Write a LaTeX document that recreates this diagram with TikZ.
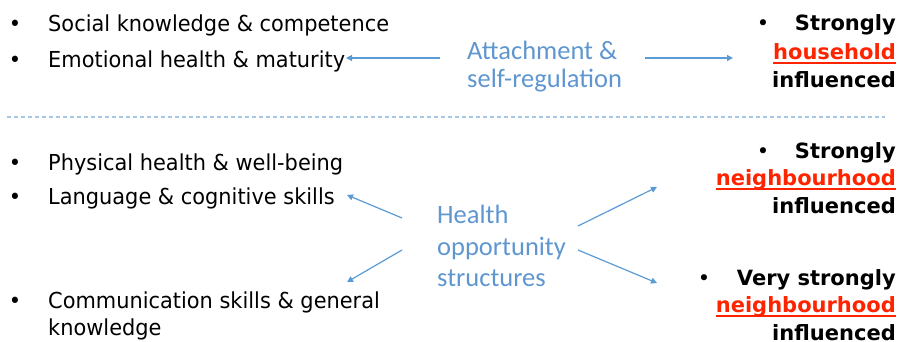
\documentclass[tikz,border=0pt]{standalone}
\usepackage{fontspec}
\setmainfont[FakeStretch=0.95]{DejaVu Sans}
\newfontfamily\bff{DejaVu Sans}
\newfontfamily\blueff{Carlito}
\usetikzlibrary{arrows.meta}
\definecolor{arrowblue}{RGB}{91,155,213}
\definecolor{txtblue}{RGB}{95,150,208}
\definecolor{hotred}{RGB}{255,36,0}
\definecolor{dashblue}{RGB}{165,198,230}
\begin{document}
\begin{tikzpicture}[x=1pt,y=-1pt,
  txt/.style={inner sep=0pt, font=\fontsize{22}{26}\selectfont, anchor=base west},
  bul/.style={inner sep=0pt, font=\fontsize{22}{26}\selectfont, anchor=base},
  bbul/.style={inner sep=0pt, font=\bff\fontsize{21}{25}\selectfont, anchor=base},
  blu/.style={inner sep=0pt, font=\blueff\fontsize{26.5}{30}\selectfont, text=txtblue, anchor=base west},
  bld/.style={inner sep=0pt, font=\bff\bfseries\fontsize{21}{25}\selectfont, anchor=base east},
  redword/.style={bld, text=hotred},
  uline/.style={draw=hotred, line width=1.6pt},
  arr/.style={draw=arrowblue, line width=1.2pt, -{Triangle[length=6pt,width=6pt]}}
]
\useasboundingbox (0,0) rectangle (901,341);
% top left list
\node[bul] (b1) at (15,31) {•};
\node[txt] (t1) at (48,31) {Social knowledge \& competence};
\node[bul] (b2) at (15,67) {•};
\node[txt] (t2) at (48,67) {Emotional health \& maturity};
% top middle
\node[blu] (a1) at (467,59) {Attachment \&};
\node[blu] (a2) at (467,87) {self-regulation};
% top right
\node[bbul] (rb1) at (763,30) {•};
\node[bld] (r1) at (896,30) {Strongly};
\node[redword] (r2) at (896,59) {household};
\node[bld] (r3) at (896,87) {influenced};
\draw[uline] ([yshift=-4pt]r2.base west) -- ([yshift=-4pt]r2.base east);
% arrows top
\coordinate (p1s) at (440,58);
\coordinate (p1e) at (346,58);
\coordinate (p2s) at (645,58);
\coordinate (p2e) at (733,58);
\draw[arr] (p1s) -- (p1e);
\draw[arr] (p2s) -- (p2e);
% dashed separator
\coordinate (d1) at (7,117);
\coordinate (d2) at (885,117);
\draw[draw=dashblue, line width=1.3pt, dash pattern=on 4pt off 3pt] (d1) -- (d2);
% bottom left list
\node[bul] (b3) at (15,170) {•};
\node[txt] (t3) at (48,170) {Physical health \& well-being};
\node[bul] (b4) at (15,204) {•};
\node[txt] (t4) at (48,204) {Language \& cognitive skills};
\node[bul] (b5) at (15,308) {•};
\node[txt] (t5) at (48,308) {Communication skills \& general};
\node[txt] (t6) at (48,335) {knowledge};
% bottom middle
\node[blu] (h1) at (437,223) {Health};
\node[blu] (h2) at (437,255) {opportunity};
\node[blu] (h3) at (437,286) {structures};
% bottom right
\node[bbul] (rb2) at (763,158) {•};
\node[bld] (s1) at (896,158) {Strongly};
\node[redword] (s2) at (896,185) {neighbourhood};
\node[bld] (s3) at (896,213) {influenced};
\draw[uline] ([yshift=-4pt]s2.base west) -- ([yshift=-4pt]s2.base east);
\node[bbul] (rb3) at (704,285) {•};
\node[bld] (v1) at (896,285) {Very strongly};
\node[redword] (v2) at (896,312) {neighbourhood};
\node[bld] (v3) at (896,340) {influenced};
\draw[uline] ([yshift=-4pt]v2.base west) -- ([yshift=-4pt]v2.base east);
% arrows bottom
\coordinate (q1s) at (402,218);
\coordinate (q1e) at (347,195);
\coordinate (q2s) at (402,250);
\coordinate (q2e) at (347,282);
\coordinate (q3s) at (578,226);
\coordinate (q3e) at (657,187);
\coordinate (q4s) at (578,250);
\coordinate (q4e) at (657,283);
\draw[arr] (q1s) -- (q1e);
\draw[arr] (q2s) -- (q2e);
\draw[arr] (q3s) -- (q3e);
\draw[arr] (q4s) -- (q4e);
\end{tikzpicture}
\end{document}
